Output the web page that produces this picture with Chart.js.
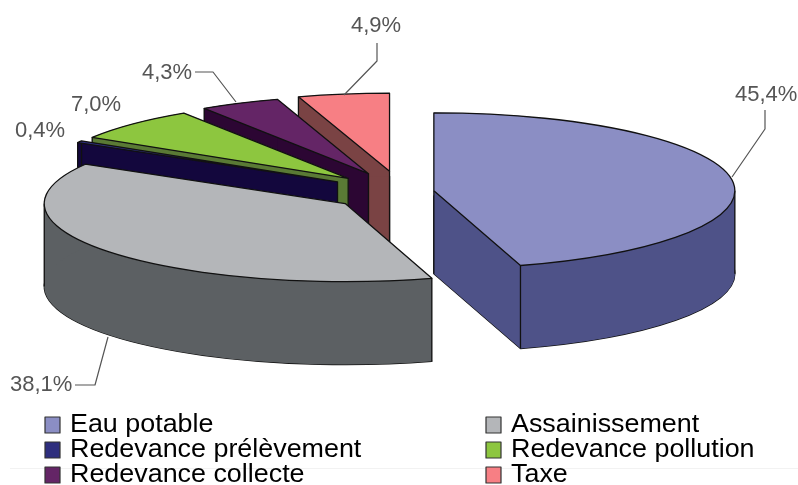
<!DOCTYPE html>
<html>
<head>
<meta charset="utf-8">
<style>
  html, body { margin: 0; padding: 0; background: #fff; }
  canvas { display: block; }
</style>
<script src="https://cdn.jsdelivr.net/npm/chart.js@4"></script>
</head>
<body>
<canvas id="chart" width="798" height="485"></canvas>
<script>
const labels = ['Eau potable', 'Assainissement', 'Redevance prélèvement', 'Redevance pollution', 'Redevance collecte', 'Taxe'];
const values = [45.4, 38.1, 0.4, 7.0, 4.3, 4.9];
const explode = [0.107, 0.24, 0.25, 0.25, 0.26, 0.27];
const topColors = ['#8b8ec4', '#b4b6b9', '#2e2e7e', '#8dc63f', '#642566', '#f77f84'];
const wallColors = ['#4e5288', '#5c6063', '#13073d', '#5a7a35', '#2c0633', '#7a4344'];

// back to front
const drawOrder = [0, 5, 4, 3, 2, 1];

// flattened pie: centre, ellipse radii, thickness
const view = { cx: 402, cy: 192, rx: 301, ry: 78, depth: 83 };

// percent labels: text x, baseline, then leader line points
const labelLayout = [
    { x: 735, y: 101, line: [[765, 110], [765, 129], [732, 177]] },
    { x: 10, y: 391, line: [[75, 385], [95, 385], [108, 337]] },
    { x: 15, y: 137, line: [] },
    { x: 71, y: 111, line: [] },
    { x: 142, y: 79, line: [[195, 72], [213, 72], [236, 102]] },
    { x: 351, y: 32, line: [[377, 43], [377, 61], [344, 95]] },
];

const legendColumns = [45, 486];
const legendRows = [432, 457, 482];

function sectorPath(ctx, arc, off, dy) {
    const mid = (arc.startAngle + arc.endAngle) / 2;
    const x = view.cx + view.rx * off * Math.cos(mid);
    const y = view.cy + view.ry * off * Math.sin(mid) + dy;
    ctx.beginPath();
    ctx.moveTo(x, y);
    ctx.ellipse(x, y, view.rx, view.ry, 0, arc.startAngle, arc.endAngle);
    ctx.closePath();
}

function fillQuad(ctx, p, q) {
    ctx.beginPath();
    ctx.moveTo(p[0], p[1]);
    ctx.lineTo(q[0], q[1]);
    ctx.lineTo(q[0], q[1] + view.depth);
    ctx.lineTo(p[0], p[1] + view.depth);
    ctx.closePath();
    ctx.fill();
}

function drawSlice(ctx, arc, i) {
    const off = arc.options.offset / 100;
    const mid = (arc.startAngle + arc.endAngle) / 2;
    const x = view.cx + view.rx * off * Math.cos(mid);
    const y = view.cy + view.ry * off * Math.sin(mid);
    const rim = a => [x + view.rx * Math.cos(a), y + view.ry * Math.sin(a)];
    const start = rim(arc.startAngle);
    const end = rim(arc.endAngle);
    const extremes = [0, Math.PI, 2 * Math.PI].filter(a => a > arc.startAngle && a < arc.endAngle);

    ctx.strokeStyle = '#111';
    ctx.lineWidth = 1.3;
    ctx.lineJoin = 'round';
    ctx.fillStyle = wallColors[i];

    // walls: bottom face, both cut faces, rim band split at the extremes
    sectorPath(ctx, arc, off, view.depth);
    ctx.fill();
    ctx.stroke();
    fillQuad(ctx, [x, y], start);
    fillQuad(ctx, [x, y], end);
    const stops = [arc.startAngle, ...extremes, arc.endAngle];
    for (let k = 0; k < stops.length - 1; k++) {
        ctx.beginPath();
        ctx.ellipse(x, y, view.rx, view.ry, 0, stops[k], stops[k + 1]);
        ctx.ellipse(x, y + view.depth, view.rx, view.ry, 0, stops[k + 1], stops[k], true);
        ctx.closePath();
        ctx.fill();
    }

    // vertical edges, only those on the outside of the solid
    const corners = [[x, y], start, end, ...extremes.map(rim)];
    sectorPath(ctx, arc, off, view.depth);
    const hidden = corners.map(c => ctx.isPointInPath(c[0], c[1] + view.depth + 3));
    corners.forEach((c, k) => {
        if (hidden[k]) return;
        ctx.beginPath();
        ctx.moveTo(c[0], c[1]);
        ctx.lineTo(c[0], c[1] + view.depth);
        ctx.stroke();
    });

    sectorPath(ctx, arc, off, 0);
    ctx.fillStyle = topColors[i];
    ctx.fill();
    ctx.stroke();
}

function drawLabels(ctx) {
    ctx.font = '22px "Liberation Sans"';
    ctx.textBaseline = 'alphabetic';
    ctx.textAlign = 'left';
    values.forEach((v, i) => {
        const l = labelLayout[i];
        ctx.fillStyle = '#555';
        ctx.fillText(v.toFixed(1).replace('.', ',') + '%', l.x, l.y);
        if (l.line.length) {
            ctx.strokeStyle = '#555';
            ctx.lineWidth = 1.2;
            ctx.beginPath();
            l.line.forEach((p, k) => k ? ctx.lineTo(p[0], p[1]) : ctx.moveTo(p[0], p[1]));
            ctx.stroke();
        }
    });
}

function drawLegend(ctx) {
    // faint rule behind the last legend row
    ctx.strokeStyle = '#f2f2f2';
    ctx.lineWidth = 1;
    ctx.beginPath();
    ctx.moveTo(10, 468.5);
    ctx.lineTo(798, 468.5);
    ctx.stroke();

    ctx.font = '25px "Liberation Sans"';
    ctx.textBaseline = 'alphabetic';
    labels.forEach((name, i) => {
        const x = legendColumns[i % 2];
        const y = legendRows[Math.floor(i / 2)];
        ctx.fillStyle = topColors[i];
        ctx.fillRect(x, y - 15, 15, 16);
        ctx.strokeStyle = '#333';
        ctx.lineWidth = 1.2;
        ctx.strokeRect(x, y - 15, 15, 16);
        ctx.save();
        ctx.translate(x + 25, y);
        ctx.scale(1.075, 1);
        ctx.fillStyle = '#000';
        ctx.fillText(name, 0, 0);
        ctx.restore();
    });
}

const flatPie = {
    id: 'flatPie',
    beforeDatasetsDraw(chart) {
        const ctx = chart.ctx;
        const arcs = chart.getDatasetMeta(0).data;
        drawOrder.forEach(i => drawSlice(ctx, arcs[i], i));
        drawLabels(ctx);
        drawLegend(ctx);
        return false;
    },
};

new Chart(document.getElementById('chart'), {
    type: 'pie',
    data: {
        labels: labels,
        datasets: [
            {
                data: values,
                backgroundColor: topColors,
                offset: explode.map(e => e * 100),
            },
        ],
    },
    options: {
        responsive: false,
        animation: false,
        plugins: {
            legend: { display: false },
            tooltip: { enabled: false },
        },
    },
    plugins: [flatPie],
});
</script>
</body>
</html>
